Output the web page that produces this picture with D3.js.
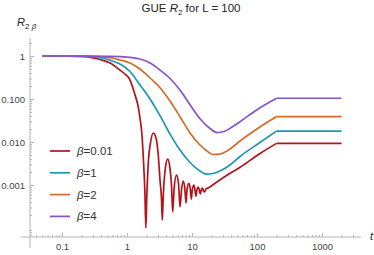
<!DOCTYPE html>
<html>
<head>
<meta charset="utf-8">
<script src="https://cdn.jsdelivr.net/npm/d3@7"></script>
<style>
  body { margin: 0; background: #fff; }
  svg { display: block; font-family: "Liberation Sans", Arial, sans-serif; }
</style>
</head>
<body>
<svg id="chart" width="374" height="255"></svg>
<script>
// values, as [t, R2]
const betaLabels = ["0.01", "1", "2", "4"];
const colors = ["#b3141c", "#1e95b1", "#d36b2c", "#8753cb"];

const beta001 = [
  [0.05, 1], [0.23, 0.97], [0.38, 0.83], [0.55, 0.69], [0.78, 0.47], [0.93, 0.38],
  [1.11, 0.28], [1.33, 0.124], [1.48, 0.069], [1.585, 0.036], [1.70, 0.0146],
  [1.79, 0.0038], [1.89, 0.00059], [1.95, 0.0001], [2.02, 0.00059], [2.14, 0.0038],
  [2.30, 0.0097], [2.54, 0.0162], [2.77, 0.0131], [3.0, 0.00585], [3.22, 0.00131],
  [3.40, 0.00045], [3.49, 0.000153], [3.62, 0.00059], [3.91, 0.0026], [4.23, 0.0040],
  [4.56, 0.0026], [4.84, 0.001], [5.05, 0.000236], [5.29, 0.00077], [5.78, 0.0017],
  [6.2, 0.0011], [6.54, 0.00031], [6.9, 0.00077], [7.32, 0.00124], [7.75, 0.00085],
  [8.09, 0.00038], [8.38, 0.00077], [8.93, 0.0011], [9.38, 0.00085], [9.76, 0.00047],
  [10.1, 0.00077], [10.7, 0.001], [11.1, 0.00077], [11.5, 0.00055], [11.9, 0.00077],
  [12.5, 0.0009], [13.0, 0.00073], [13.4, 0.00062], [13.9, 0.00077], [14.5, 0.00085],
  [15.0, 0.00073], [15.6, 0.00069], [16.4, 0.00081], [17.6, 0.00085], [22.6, 0.0011],
  [32.2, 0.00158], [54.8, 0.00258], [111, 0.0054], [200, 0.0093], [2000, 0.0093]
];
const beta1 = [
  [0.05, 1], [0.19, 0.99], [0.384, 0.92], [0.548, 0.80], [0.78, 0.652], [1.112, 0.436],
  [1.585, 0.212], [2.26, 0.100], [3.22, 0.041], [4.59, 0.0153], [6.54, 0.00652],
  [9.32, 0.00334], [13.28, 0.00212], [16.42, 0.0018], [21.0, 0.00185], [27.0, 0.00212],
  [38.4, 0.00292], [54.8, 0.0046], [111, 0.00974], [200, 0.018], [2000, 0.018]
];
const beta2 = [
  [0.05, 1], [0.27, 0.99], [0.548, 0.92], [0.78, 0.807], [1.112, 0.688], [1.585, 0.498],
  [2.26, 0.308], [3.22, 0.183], [4.59, 0.0899], [6.54, 0.0388], [9.32, 0.0162],
  [13.28, 0.00852], [17.0, 0.00618], [21.0, 0.00512], [27.0, 0.00526], [38.4, 0.00688],
  [54.8, 0.01055], [111, 0.0223], [200, 0.039], [2000, 0.039]
];
const beta4 = [
  [0.05, 1], [0.548, 0.98], [1.112, 0.93], [1.585, 0.85], [2.26, 0.688], [3.22, 0.472],
  [4.59, 0.30], [6.54, 0.162], [9.32, 0.0735], [13.28, 0.0348], [18.9, 0.0206],
  [24.3, 0.0166], [31.1, 0.0175], [41.3, 0.0223], [54.8, 0.0297], [100, 0.0565],
  [200, 0.104], [2000, 0.104]
];
const seriesList = [beta001, beta1, beta2, beta4];

const xTicks = [0.1, 1, 10, 100, 1000];
const xTickLabels = ["0.1", "1", "10", "100", "1000"];
const yTicks = [1, 0.1, 0.01, 0.001];
const yTickLabels = ["1", "0.100", "0.010", "0.001"];
const plateauStart = 200;

const svg = d3.select("#chart");

let x = d3.scaleLog().domain([0.0322, 3981]).range([30, 361]);
let y = d3.scaleLog().domain([6.18e-5, 2.622]).range([237, 38]);

// minor ticks, 2..9 in every decade inside the domain
function minorTicks(scale) {
  const [a, b] = scale.domain();
  let out = [];
  for (let e = Math.floor(Math.log10(a)); e <= Math.ceil(Math.log10(b)); e++) {
    for (let k = 2; k <= 9; k++) {
      const v = k * Math.pow(10, e);
      if (v >= a && v <= b) out.push(v);
    }
  }
  return out;
}

const axisColor = "#b4b4b4";
const labelColor = "#444";

// axis lines
svg.append("line").attr("x1", 21).attr("x2", 361).attr("y1", 237).attr("y2", 237)
  .attr("stroke", axisColor).attr("stroke-width", 1);
svg.append("line").attr("x1", 30).attr("x2", 30).attr("y1", 38).attr("y2", 248)
  .attr("stroke", axisColor).attr("stroke-width", 1);

function styleAxis(g) {
  g.select(".domain").remove();
  g.selectAll(".tick line").attr("stroke", axisColor);
  g.selectAll("text").attr("fill", labelColor).attr("font-size", 9.5)
    .attr("font-family", "Liberation Sans, Arial, sans-serif");
}

svg.append("g").attr("transform", "translate(0,237)")
  .call(d3.axisBottom(x).tickValues(minorTicks(x)).tickSize(-2).tickFormat(""))
  .call(styleAxis);
svg.append("g").attr("transform", "translate(0,237)")
  .call(d3.axisBottom(x).tickValues(xTicks).tickSize(-4).tickPadding(6)
    .tickFormat((d, i) => xTickLabels[i]))
  .call(styleAxis);

svg.append("g").attr("transform", "translate(30,0)")
  .call(d3.axisLeft(y).tickValues(minorTicks(y)).tickSize(-2).tickFormat(""))
  .call(styleAxis);
svg.append("g").attr("transform", "translate(30,0)")
  .call(d3.axisLeft(y).tickValues(yTicks).tickSize(-4).tickPadding(5)
    .tickFormat((d, i) => yTickLabels[i]))
  .call(styleAxis);

// curves: smooth part up to the plateau, then the flat plateau
const line = d3.line()
  .x(d => x(d[0]))
  .y(d => y(d[1]))
  .curve(d3.curveMonotoneX);

seriesList.forEach((pts, i) => {
  const ramp = pts.filter(p => p[0] <= plateauStart);
  const flat = pts.filter(p => p[0] >= plateauStart);
  [ramp, flat].forEach(part => {
    svg.append("path")
      .datum(part)
      .attr("d", line)
      .attr("fill", "none")
      .attr("stroke", colors[i])
      .attr("stroke-width", 1.7)
      .attr("stroke-linejoin", "round");
  });
});

// legend
const legend = svg.append("g");
betaLabels.forEach((b, i) => {
  const ly = 151 + i * 21.8;
  legend.append("line")
    .attr("x1", 50).attr("x2", 70).attr("y1", ly).attr("y2", ly)
    .attr("stroke", colors[i]).attr("stroke-width", 1.7);
  const t = legend.append("text")
    .attr("x", 77).attr("y", ly + 4)
    .attr("font-size", 11.5).attr("fill", "#333");
  t.append("tspan").attr("font-style", "italic").text("β");
  t.append("tspan").text("=" + b);
});

// title
const title = svg.append("text")
  .attr("x", 191).attr("y", 12)
  .attr("text-anchor", "middle")
  .attr("font-size", 11.5).attr("fill", "#222");
title.append("tspan").text("GUE ");
title.append("tspan").attr("font-style", "italic").text("R");
title.append("tspan").attr("font-size", 8).attr("dy", 2.5).text("2");
title.append("tspan").attr("dy", -2.5).text(" for L = 100");

// axis labels
const yl = svg.append("text").attr("x", 17).attr("y", 26)
  .attr("font-size", 11).attr("fill", "#222");
yl.append("tspan").attr("font-style", "italic").text("R");
yl.append("tspan").attr("font-size", 8).attr("dy", 3).text("2 ");
yl.append("tspan").attr("font-size", 8).attr("font-style", "italic").text("β");

svg.append("text").attr("x", 370).attr("y", 240)
  .attr("font-size", 11).attr("font-style", "italic").attr("fill", "#222")
  .text("t");
</script>
</body>
</html>
